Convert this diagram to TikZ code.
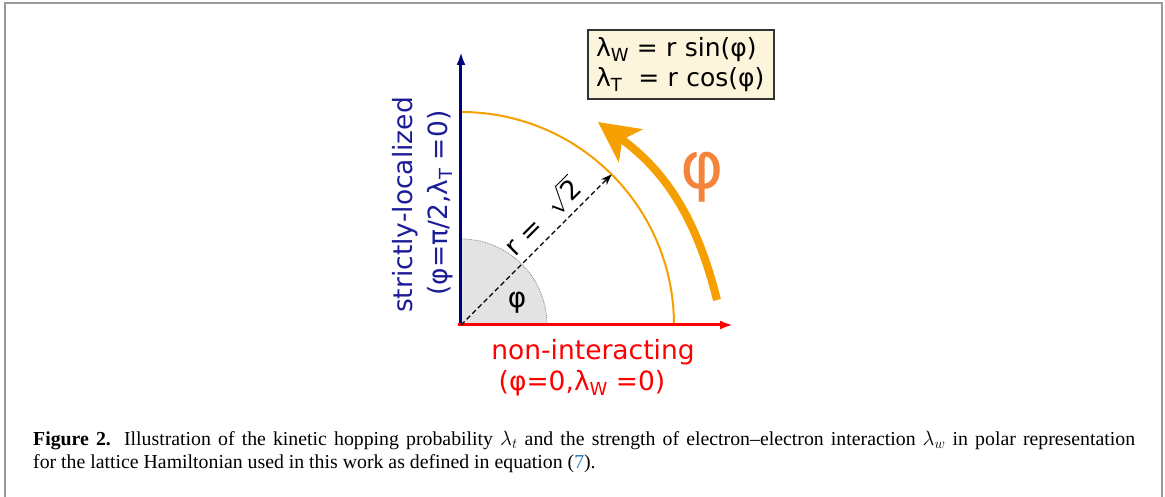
\documentclass[tikz,border=0pt]{standalone}
\usepackage{fontspec}
\setmainfont{Liberation Serif}
\newfontfamily\labelfont{DejaVu Sans}
\usetikzlibrary{arrows.meta}
\definecolor{axisnavy}{HTML}{00007F}
\definecolor{labelblue}{HTML}{1C1C96}
\definecolor{arcorange}{HTML}{F5A000}
\definecolor{phiorange}{HTML}{F5843A}
\definecolor{boxcream}{HTML}{FCF5DC}
\definecolor{framegray}{HTML}{9A9A9A}
\definecolor{linkblue}{HTML}{2B7BB9}
\newcommand{\lsub}[1]{\raisebox{-5.5pt}{\fontsize{18}{18}\selectfont #1}}

\begin{document}
\begin{tikzpicture}[x=1pt,y=1pt,>=Stealth,
  lbl/.style={font=\labelfont\fontsize{26.5}{32}\selectfont,inner sep=0pt},
  axis/.style={line width=3pt,-{Latex[length=13pt,width=9pt]}}]
\useasboundingbox (-461,-172) rectangle (704,325);
\draw[framegray,line width=2.5pt] (-456,-172) -- (-456,322) -- (701,322) -- (701,-172);
\coordinate (o) at (0,0);
\coordinate (top) at (0,273);
\coordinate (right) at (272,0);
\coordinate (left) at (-3,0);
\coordinate (tip) at (45:213);
\coordinate (sweep) at (256,25);
\coordinate (sweepend) at (137,203);
\fill[gray!22] (o) -- (86,0) arc[start angle=0,end angle=90,radius=86] -- cycle;
\draw[gray,densely dotted,line width=0.8pt] (86,0) arc[start angle=0,end angle=90,radius=86];
\draw[arcorange,line width=2pt] (213,0) arc[start angle=0,end angle=90,radius=213];
\draw[axis,axisnavy] (o) -- (top);
\draw[axis,red] (left) -- (right);
\draw[dash pattern=on 5pt off 3pt,line width=1.4pt,-{Stealth[length=11pt,width=8pt]}] (o) -- (tip)
  node[pos=0.63,sloped,above=6pt,lbl] {r =\ \ \(\sqrt{\mbox{2}}\)};
\draw[arcorange,line width=8pt,-{Stealth[length=40pt,width=40pt,inset=10pt]}] (sweep) to[out=104,in=-36] (sweepend);
\node[font=\labelfont\fontsize{66}{66}\selectfont,text=phiorange,inner sep=0pt] (phi) at (241,148) {φ};
\node[lbl,font=\labelfont\fontsize{28}{28}\selectfont] (ang) at (56,22) {φ};
\node[lbl,font=\labelfont\fontsize{25}{30}\selectfont,draw=black!80,fill=boxcream,line width=1.3pt,
  align=left,text width=170pt,inner xsep=8pt,minimum height=69pt] (eq) at (220,260.5)
  {λ\lsub{W} = r sin(φ)\\λ\lsub{T}\ \ = r cos(φ)};
\node[lbl,text=labelblue,rotate=90] (loc) at (-56,120) {strictly-localized};
\node[lbl,text=labelblue,rotate=90] (locval) at (-21,122) {(φ=π/2,λ\lsub{T} =0)};
\node[lbl,text=red] (nonint) at (132,-27) {non-interacting};
\node[lbl,text=red] (nonintval) at (121,-58) {(φ=0,λ\lsub{W} =0)};
\node[anchor=north west,text width=1102pt,align=justify,inner sep=0pt,font=\fontsize{19.8}{23}\selectfont] (cap) at (-428,-106)
  {\textbf{Figure 2.} Illustration of the kinetic hopping probability $\lambda_t$ and the strength of electron–electron interaction $\lambda_w$ in polar representation\linebreak
  for the lattice Hamiltonian used in this work as defined in equation (\textcolor{linkblue}{7}).};
\end{tikzpicture}
\end{document}
